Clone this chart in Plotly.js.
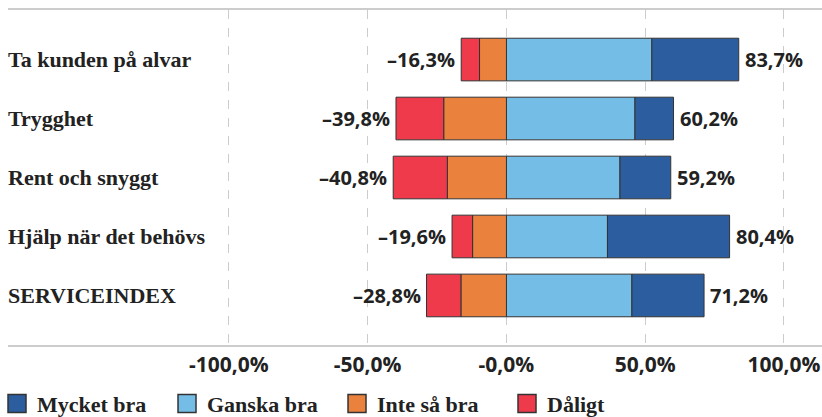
<!DOCTYPE html>
<html>
<head>
<meta charset="utf-8">
<script src="https://cdn.plot.ly/plotly-3.0.1.min.js"></script>
<style>html,body{margin:0;padding:0;background:#fff;}</style>
</head>
<body>
<div id="chart" style="width:822px;height:417px;"></div>
<script>
// Data
const categories = ["Ta kunden på alvar", "Trygghet", "Rent och snyggt", "Hjälp när det behövs", "SERVICEINDEX"];
const mycketBra = [31.3, 13.9, 18.3, 44.0, 26.0];
const ganskaBra = [52.4, 46.3, 40.9, 36.4, 45.2];
const inteSaBra = [9.7, 22.6, 21.3, 12.2, 16.4];
const daligt = [6.6, 17.2, 19.5, 7.4, 12.4];
const tickValues = [-100, -50, 0, 50, 100];
const tickLabels = ["-100,0%", "-50,0%", "-0,0%", "50,0%", "100,0%"];

const colors = {mycket: "#2c5d9f", ganska: "#74bde7", inte: "#ea823d", daligt: "#ee3a4b"};
const numFont = {family: "Open Sans", size: 20, color: "#222222", weight: 700};
const tickFont = {family: "Open Sans", size: 21, color: "#222222", weight: 700};
const serifFont = {family: "Liberation Serif", size: 22, color: "#222222", weight: 700};
const outline = {color: "#333333", width: 1};

function fmt(v) { return v.toFixed(1).replace(".", ",") + "%"; }

const traces = [
  {type: "bar", orientation: "h", name: "Ganska bra", y: categories, x: ganskaBra,
   marker: {color: colors.ganska, line: outline}, legendrank: 2, hoverinfo: "skip"},
  {type: "bar", orientation: "h", name: "Mycket bra", y: categories, x: mycketBra,
   marker: {color: colors.mycket, line: outline}, legendrank: 1, hoverinfo: "skip"},
  {type: "bar", orientation: "h", name: "Inte så bra", y: categories, x: inteSaBra.map(v => -v),
   marker: {color: colors.inte, line: outline}, legendrank: 3, hoverinfo: "skip"},
  {type: "bar", orientation: "h", name: "Dåligt", y: categories, x: daligt.map(v => -v),
   marker: {color: colors.daligt, line: outline}, legendrank: 4, hoverinfo: "skip"}
];

const annotations = [];
categories.forEach((c, i) => {
  const neg = inteSaBra[i] + daligt[i];
  const pos = ganskaBra[i] + mycketBra[i];
  annotations.push({x: -neg, y: c, xref: "x", yref: "y", text: "–" + fmt(neg),
    showarrow: false, xanchor: "right", xshift: -4, font: numFont});
  annotations.push({x: pos, y: c, xref: "x", yref: "y", text: fmt(pos),
    showarrow: false, xanchor: "left", xshift: 4, font: numFont});
});

const layout = {
  width: 822, height: 417,
  margin: {l: 8, r: 0, t: 10, b: 72, autoexpand: false},
  paper_bgcolor: "#ffffff", plot_bgcolor: "#ffffff",
  barmode: "relative", bargap: 0.277,
  xaxis: {
    range: [-179.6, 113.7], tickvals: tickValues, ticktext: tickLabels,
    showgrid: true, gridcolor: "#cccccc", griddash: "dash", gridwidth: 1,
    zeroline: false, showline: true, mirror: true, linecolor: "#cccccc", linewidth: 2,
    ticks: "", tickfont: tickFont, fixedrange: true, automargin: false
  },
  yaxis: {
    type: "category", categoryorder: "array", categoryarray: categories,
    range: [4.84, -0.84], showgrid: false, zeroline: false, showline: false,
    ticks: "", ticklabelposition: "inside", ticklabelstandoff: -3, tickfont: serifFont,
    fixedrange: true, automargin: false
  },
  legend: {
    orientation: "h", x: -0.0135, xanchor: "left", y: -0.175, yanchor: "middle",
    font: serifFont, traceorder: "normal", entrywidth: 125, bgcolor: "rgba(0,0,0,0)"
  },
  annotations: annotations,
  showlegend: true
};

Plotly.newPlot("chart", traces, layout, {displayModeBar: false, staticPlot: true}).then(gd => {
  gd.querySelectorAll(".legend .legendpoints path").forEach(p => {
    const t = p.getAttribute("transform") || "";
    p.setAttribute("transform", t + " scale(1.5)");
  });
});
</script>
</body>
</html>
